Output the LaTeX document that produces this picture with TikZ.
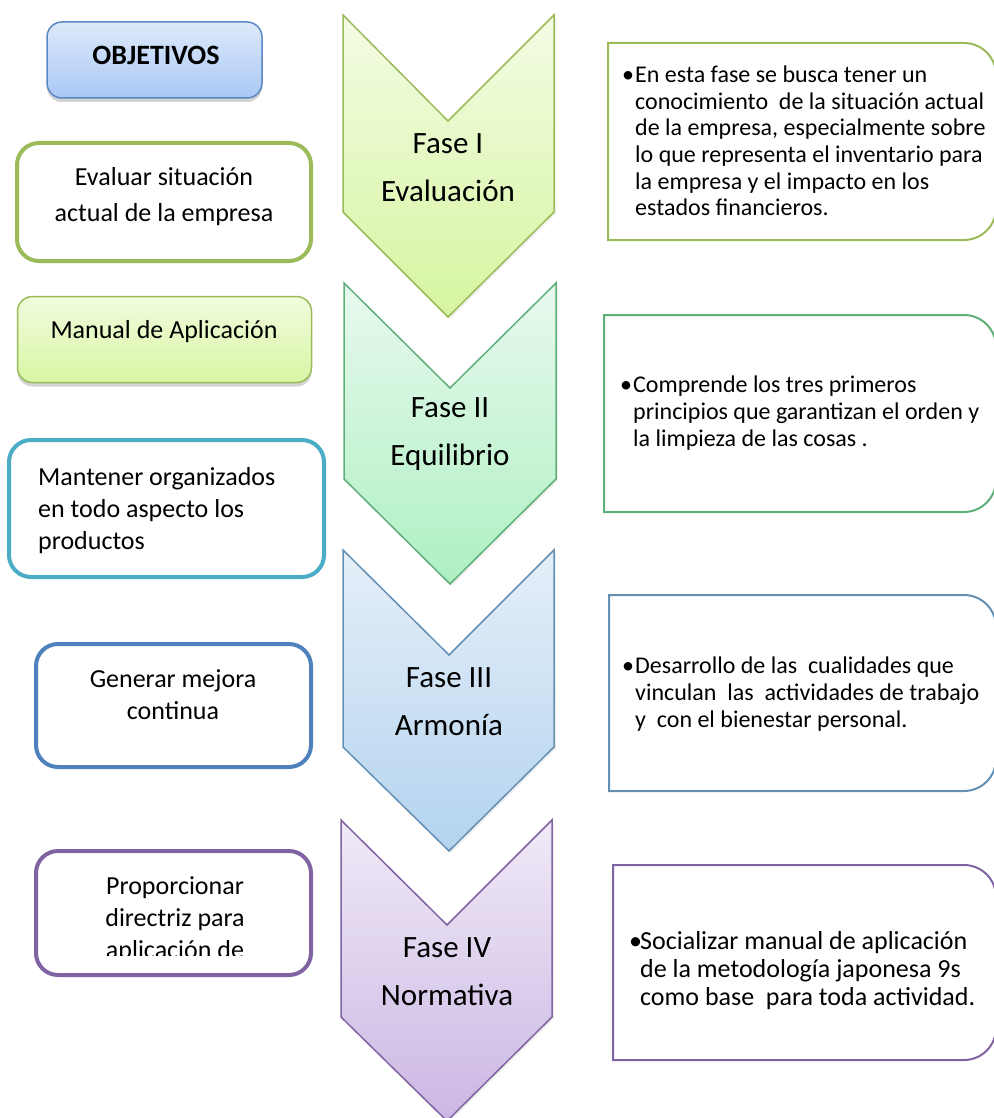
\documentclass[tikz,border=0pt]{standalone}
\usepackage{fontspec}
\setmainfont{Carlito}
\usetikzlibrary{shadows}

\definecolor{olive}{HTML}{9BBB59}
\definecolor{aqua}{HTML}{4BACC6}
\definecolor{steel}{HTML}{4F81BD}
\definecolor{lilac}{HTML}{8064A2}
\definecolor{mint}{HTML}{5FAF7A}
\definecolor{slate}{HTML}{6490B4}
\definecolor{headline}{HTML}{5B87C5}

\tikzset{
  goalbox/.style={rectangle, rounded corners=22pt, line width=4pt, fill=white, inner sep=0pt},
  softbox/.style={rectangle, rounded corners=15pt, line width=1.5pt, inner sep=0pt,
    drop shadow={opacity=0.35, shadow xshift=0pt, shadow yshift=-4pt}},
  goaltext/.style={font=\fontsize{26}{32}\selectfont, align=center, inner sep=0pt},
  phase/.style={line width=1.5pt, line join=miter,
    drop shadow={opacity=0.12, shadow xshift=2pt, shadow yshift=-2pt}},
  phasetext/.style={font=\fontsize{31}{48}\selectfont, align=center, inner sep=0pt},
  notebox/.style={line width=2pt, fill=white},
  notetext/.style={font=\fontsize{24}{26.7}\selectfont, align=left, inner sep=0pt, anchor=west},
}
\newcommand\bul{\makebox[13pt][l]{•}}
\newcommand\ind{\hspace*{13pt}}

\begin{document}
\begin{tikzpicture}[x=1pt,y=1pt]
\useasboundingbox (0,0) rectangle (993,-1118);

% ---- phase chevrons ----
\draw[phase, draw=olive, top color={rgb,255:red,243;green,252;blue,228}, bottom color={rgb,255:red,214;green,245;blue,160}]
  (343,-15) -- (448,-121) -- (554,-15) -- (554,-212) -- (448,-317) -- (343,-212) -- cycle;
\draw[phase, draw=mint, top color={rgb,255:red,232;green,249;blue,238}, bottom color={rgb,255:red,174;green,240;blue,194}]
  (344,-283) -- (450,-388) -- (556,-283) -- (556,-479) -- (450,-584) -- (344,-479) -- cycle;
\draw[phase, draw=slate, top color={rgb,255:red,230;green,239;blue,249}, bottom color={rgb,255:red,179;green,211;blue,239}]
  (343,-550) -- (449,-655) -- (554,-550) -- (554,-747) -- (449,-851) -- (343,-747) -- cycle;
\draw[phase, draw=lilac, top color={rgb,255:red,240;green,234;blue,247}, bottom color={rgb,255:red,203;green,183;blue,228}]
  (341,-820) -- (447,-925) -- (552,-820) -- (552,-1017) -- (447,-1121) -- (341,-1017) -- cycle;

\node[phasetext] (f1) at (448,-168) {Fase I\\Evaluación};
\node[phasetext] (f2) at (450,-434) {Fase II\\Equilibrio};
\node[phasetext] (f3) at (449,-702) {Fase III\\Armonía};
\node[phasetext] (f4) at (447,-972) {Fase IV\\Normativa};

% ---- objectives column ----
\node[softbox, draw=headline, top color={rgb,255:red,221;green,233;blue,251}, bottom color={rgb,255:red,169;green,200;blue,244},
  minimum width=215, minimum height=76] (head) at (154.5,-60) {};
\node[font=\fontsize{28}{32}\selectfont\bfseries, inner sep=0pt] (headt) at (156,-55) {OBJETIVOS};

\node[goalbox, draw=olive, minimum width=294, minimum height=118] (g1) at (164,-202) {};
\node[goaltext, font=\fontsize{26}{36}\selectfont] (g1t) at (164,-197) {Evaluar situación\\actual de la empresa};

\node[softbox, draw=olive, top color={rgb,255:red,241;green,252;blue,221}, bottom color={rgb,255:red,217;green,246;blue,165},
  minimum width=294, minimum height=86] (g2) at (164.5,-339.5) {};
\node[goaltext] (g2t) at (164,-332) {Manual de Aplicación};

\node[goalbox, draw=aqua, minimum width=315, minimum height=137] (g3) at (166.5,-508.5) {};
\node[goaltext, align=left, anchor=west] (g3t) at (38,-511) {Mantener organizados\\en todo aspecto los\\productos};

\node[goalbox, draw=steel, minimum width=275, minimum height=123] (g4) at (173.5,-705.5) {};
\node[goaltext] (g4t) at (173,-695) {Generar mejora\\continua};

\node[goalbox, draw=lilac, minimum width=275, minimum height=124] (g5) at (173.5,-913) {};
\begin{scope}
  \clip (34,-849) rectangle (313,-955);
  \node[goaltext] (g5t) at (175,-920) {Proporcionar\\directriz para\\aplicación de};
\end{scope}

% ---- phase notes ----
\draw[notebox, draw=olive] (608,-240) -- (608,-43) -- (964,-43) arc[start angle=90, end angle=0, radius=32]
  -- (996,-208) arc[start angle=0, end angle=-90, radius=32] -- cycle;
\node[notetext] (n1) at (622,-141) {\bul En esta fase se busca tener un\\\ind conocimiento \ de la situación actual\\\ind de la empresa, especialmente sobre\\\ind lo que representa el inventario para\\\ind la empresa y el impacto en los\\\ind estados financieros.};

\draw[notebox, draw=mint] (604,-512) -- (604,-315) -- (964,-315) arc[start angle=90, end angle=0, radius=32]
  -- (996,-480) arc[start angle=0, end angle=-90, radius=32] -- cycle;
\node[notetext] (n2) at (620,-413) {\bul Comprende los tres primeros\\\ind principios que garantizan el orden y\\\ind la limpieza de las cosas .};

\draw[notebox, draw=slate] (609,-791) -- (609,-595) -- (964,-595) arc[start angle=90, end angle=0, radius=32]
  -- (996,-759) arc[start angle=0, end angle=-90, radius=32] -- cycle;
\node[notetext] (n3) at (622,-694) {\bul Desarrollo de las \ cualidades que\\\ind vinculan \ las \ actividades de trabajo\\\ind y \ con el bienestar personal.};

\draw[notebox, draw=lilac] (613,-1060) -- (613,-865) -- (964,-865) arc[start angle=90, end angle=0, radius=32]
  -- (996,-1028) arc[start angle=0, end angle=-90, radius=32] -- cycle;
\node[notetext, font=\fontsize{26}{28}\selectfont] (n4) at (629,-971) {\makebox[11pt][l]{•}Socializar manual de aplicación\\\hspace*{11pt}de la metodología japonesa 9s\\\hspace*{11pt}como base \ para toda actividad.};
\end{tikzpicture}
\end{document}
